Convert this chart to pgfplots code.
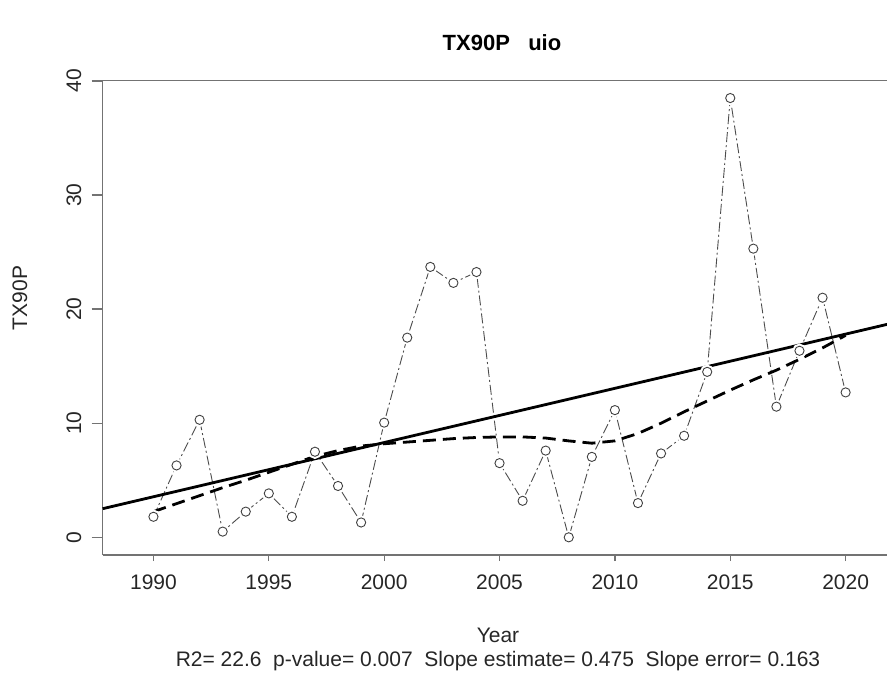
\documentclass[border=0pt]{standalone}
\usepackage{fontspec}
\setmainfont{Liberation Sans}
\usepackage{pgfplots}
\usepackage{pgfplotstable}
\pgfplotsset{compat=1.18}

% annual TX90P values
\pgfplotstableread{
year val
1990 1.8
1991 6.3
1992 10.3
1993 0.5
1994 2.25
1995 3.85
1996 1.8
1997 7.5
1998 4.5
1999 1.3
2000 10.05
2001 17.5
2002 23.7
2003 22.3
2004 23.25
2005 6.5
2006 3.2
2007 7.6
2008 0.0
2009 7.05
2010 11.15
2011 3.0
2012 7.35
2013 8.9
2014 14.5
2015 38.5
2016 25.3
2017 11.45
2018 16.35
2019 21.0
2020 12.7
}\tx

% loess smooth
\pgfplotstableread{
year val
1990 2.25
1991 2.95
1992 3.65
1993 4.35
1994 5.0
1995 5.7
1996 6.4
1997 7.1
1998 7.6
1999 8.0
2000 8.2
2001 8.35
2002 8.5
2003 8.65
2004 8.75
2005 8.8
2006 8.8
2007 8.7
2008 8.45
2009 8.25
2010 8.45
2011 9.1
2012 10.0
2013 11.0
2014 11.95
2015 12.9
2016 13.8
2017 14.65
2018 15.6
2019 16.6
2020 17.7
}\lo

\begin{document}
\begin{tikzpicture}[x=1pt, y=1pt]
\begin{axis}[
    name=ax, at={(0pt,0pt)}, anchor=south west,
    scale only axis, width=798.3pt, height=474.3pt,
    xmin=1987.8, xmax=2022.4, ymin=-1.55, ymax=40.02,
    axis x line*=bottom, axis y line*=left,
    axis line style={-, draw=black!55, line width=1.3pt},
    tick align=outside,
    tick style={black!55, line width=1.3pt},
    xtick={1990,1995,...,2020}, ytick={0,10,...,40},
    xtick style={/pgfplots/major tick length=6pt},
    ytick style={/pgfplots/major tick length=11pt},
    /pgf/number format/assume math mode=true,
    x tick label style={/pgf/number format/1000 sep={}},
    tick label style={font=\fontsize{21}{25}\selectfont, text=black!85, inner sep=0pt},
    xticklabel style={anchor=north, yshift=-15pt},
    yticklabel style={xshift=-17pt, rotate=90, anchor=south},
    clip=false,
]
\addplot[black!70, line width=0.9pt, dash pattern=on 10pt off 3pt on 2pt off 3pt] table[x=year, y=val] {\tx};
\addplot[only marks, mark=*, mark size=4.6pt, draw=white, fill=white, line width=5pt] table[x=year, y=val] {\tx};
\addplot[only marks, mark=o, mark size=4.6pt, black!75, line width=0.9pt, fill=white] table[x=year, y=val] {\tx};
\addplot[black, line width=2.8pt] coordinates {(1987.8,2.51) (2022.4,18.95)};
\addplot[black, line width=2.8pt, dash pattern=on 13pt off 7pt] table[x=year, y=val] {\lo};
\end{axis}
\draw[black!55, line width=1.3pt] (ax.north west) -- (ax.north east);
\node[font=\fontsize{22}{26}\selectfont\bfseries] at (399.3pt,512pt) {TX90P\ \ \ uio};
\node[font=\fontsize{21}{25}\selectfont, text=black!85] at (395.3pt,-80pt) {Year};
\node[font=\fontsize{21}{25}\selectfont, text=black!85] at (395.3pt,-106pt) {R2= 22.6\ \ p-value= 0.007\ \ Slope estimate= 0.475\ \ Slope error= 0.163};
\node[font=\fontsize{21}{25}\selectfont, text=black!85, rotate=90] at (-82.7pt,257pt) {TX90P};
\pgfresetboundingbox
\useasboundingbox (-102.7pt,-120pt) rectangle (784.3pt,555pt);
\end{tikzpicture}
\end{document}
